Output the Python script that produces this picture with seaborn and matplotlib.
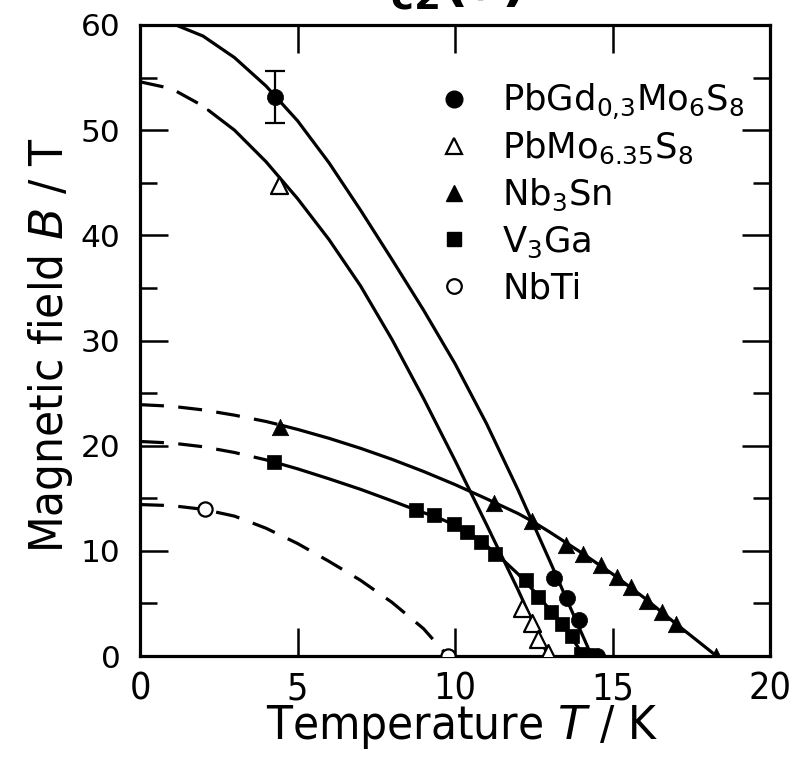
import matplotlib
matplotlib.use('Agg')
import matplotlib.pyplot as plt
from matplotlib import font_manager
from matplotlib.ticker import MultipleLocator
import seaborn as sns

# measured points (T in K, B in T)
pbgd_T = [4.29, 13.14, 13.54, 13.94, 14.5]
pbgd_B = [53.2, 7.38, 5.48, 3.42, 0.0]
pbgd_err_lo = 50.65
pbgd_err_hi = 55.65

pbmo_T = [4.4, 12.12, 12.46, 12.65, 12.96]
pbmo_B = [44.8, 4.53, 3.17, 1.59, 0.3]

nb3sn_T = [4.45, 11.25, 12.43, 13.51, 14.07, 14.63, 15.13, 15.58, 16.08, 16.58, 17.02, 18.3]
nb3sn_B = [21.8, 14.56, 12.85, 10.54, 9.69, 8.7, 7.53, 6.52, 5.25, 4.21, 3.04, 0.0]

v3ga_T = [4.24, 8.75, 9.34, 9.97, 10.38, 10.83, 11.28, 12.24, 12.62, 13.05, 13.41, 13.7, 14.0, 14.2]
v3ga_B = [18.4, 13.93, 13.39, 12.54, 11.8, 10.88, 9.69, 7.2, 5.63, 4.21, 3.04, 1.9, 0.2, 0.1]

nbti_T = [2.06, 9.77]
nbti_B = [13.96, 0.0]

pbgd_curve_T = [1.0, 1.22, 2.0, 3.0, 4.0, 5.0, 6.0, 7.0, 8.0, 9.0, 10.0, 11.0, 12.0, 13.0, 14.0, 14.34]
pbgd_curve_B = [60.2, 59.9, 58.95, 56.9, 54.2, 50.9, 46.9, 42.4, 37.7, 32.9, 27.8, 22.1, 15.8, 9.1, 2.3, 0.0]
pbgd_dash_end = 0.0

pbmo_curve_T = [0.0, 1.0, 2.0, 2.17, 3.0, 4.0, 5.0, 6.0, 7.0, 8.0, 9.0, 10.0, 11.0, 12.0, 12.96]
pbmo_curve_B = [54.6, 53.95, 52.3, 51.9, 50.0, 47.0, 43.5, 39.6, 35.2, 30.1, 24.5, 18.6, 12.5, 6.3, 0.0]
pbmo_dash_end = 2.17

nb3sn_curve_T = [0.0, 1.0, 2.0, 3.0, 4.0, 4.45, 5.0, 6.0, 7.0, 8.0, 9.0, 10.0, 11.0, 12.0, 12.43,
                 13.0, 14.0, 15.0, 16.0, 17.0, 18.0, 18.3]
nb3sn_curve_B = [23.9, 23.75, 23.4, 22.9, 22.3, 21.97, 21.55, 20.7, 19.75, 18.7, 17.55, 16.3, 14.95, 13.55, 12.85,
                 11.8, 9.85, 7.8, 5.55, 3.1, 0.72, 0.0]
nb3sn_dash_end = 4.45

v3ga_curve_T = [0.0, 1.0, 2.0, 3.0, 4.0, 4.24, 5.0, 6.0, 7.0, 8.0, 8.75, 9.5, 10.0, 10.5, 11.0, 11.5,
                12.0, 12.5, 13.0, 13.5, 14.1]
v3ga_curve_B = [20.4, 20.25, 19.9, 19.35, 18.65, 18.45, 17.8, 16.85, 15.85, 14.75, 13.9, 13.1, 12.45, 11.6, 10.5, 9.2,
                7.8, 6.2, 4.45, 2.6, 0.0]
v3ga_dash_end = 4.24

nbti_curve_T = [0.0, 1.0, 2.0, 3.0, 4.0, 5.0, 6.0, 7.0, 8.0, 9.0, 9.77]
nbti_curve_B = [14.4, 14.3, 13.95, 13.3, 12.15, 10.7, 9.0, 7.2, 5.1, 2.6, 0.0]
nbti_dash_end = 9.77

labels = ['PbGd$_{0{,}3}$Mo$_6$S$_8$', 'PbMo$_{6.35}$S$_8$', 'Nb$_3$Sn', 'V$_3$Ga', 'NbTi']

sns.set_style('ticks')
plt.rcParams['font.family'] = ['Liberation Sans', 'DejaVu Sans']
plt.rcParams['mathtext.fontset'] = 'custom'
plt.rcParams['mathtext.rm'] = 'DejaVu Sans'
plt.rcParams['mathtext.it'] = 'DejaVu Sans:italic'
plt.rcParams['mathtext.bf'] = 'DejaVu Sans:bold'
for key in ['text.color', 'axes.labelcolor', 'xtick.color', 'ytick.color', 'axes.edgecolor']:
    plt.rcParams[key] = 'black'


def narrow_font():
    # the source uses a condensed face for the x ticks and axis titles
    names = {f.name for f in font_manager.fontManager.ttflist}
    if 'Liberation Sans Narrow' in names:
        return {'family': 'Liberation Sans Narrow'}
    for f in font_manager.fontManager.ttflist:
        if f.name == 'DejaVu Sans' and 'Condensed' in f.fname and 'Bold' not in f.fname:
            return {'family': 'DejaVu Sans', 'stretch': 'condensed'}
    return None


narrow = narrow_font()
if narrow:
    label_kw = dict(fontsize=34, **narrow)
    xtick_kw = dict(fontsize=27, **narrow)
else:
    label_kw = dict(fontsize=33, family='Liberation Sans')
    xtick_kw = dict(fontsize=25, family='Liberation Sans')

LW = 2.3
DASH = (7.5, 4.5)

fig = plt.figure(figsize=(7.92, 7.66), dpi=100)
ax = fig.add_axes([140 / 792, 110 / 766, 630 / 792, 631 / 766])


def draw_curve(T, B, dash_end):
    # dashed extrapolation up to dash_end, solid fit after it
    dT = [t for t in T if t <= dash_end]
    dB = [b for t, b in zip(T, B) if t <= dash_end]
    sT = [t for t in T if t >= dash_end]
    sB = [b for t, b in zip(T, B) if t >= dash_end]
    if len(dT) > 1:
        sns.lineplot(x=dT, y=dB, sort=False, estimator=None, color='black', lw=LW, ax=ax)
        ax.lines[-1].set_dashes(DASH)
    if len(sT) > 1:
        sns.lineplot(x=sT, y=sB, sort=False, estimator=None, color='black', lw=LW, ax=ax)


draw_curve(pbgd_curve_T, pbgd_curve_B, pbgd_dash_end)
draw_curve(pbmo_curve_T, pbmo_curve_B, pbmo_dash_end)
draw_curve(nb3sn_curve_T, nb3sn_curve_B, nb3sn_dash_end)
draw_curve(v3ga_curve_T, v3ga_curve_B, v3ga_dash_end)
draw_curve(nbti_curve_T, nbti_curve_B, nbti_dash_end)

ax.errorbar([pbgd_T[0]], [pbgd_B[0]],
            yerr=[[pbgd_B[0] - pbgd_err_lo], [pbgd_err_hi - pbgd_B[0]]],
            fmt='none', ecolor='black', elinewidth=1.6, capsize=7, capthick=1.6, zorder=3)

sns.scatterplot(x=pbgd_T, y=pbgd_B, marker='o', s=135, color='black', edgecolor='black', linewidth=0.5, zorder=4, ax=ax)
sns.scatterplot(x=pbmo_T, y=pbmo_B, marker='^', s=150, color='white', edgecolor='black', linewidth=1.6, zorder=4, ax=ax)
sns.scatterplot(x=nb3sn_T, y=nb3sn_B, marker='^', s=140, color='black', edgecolor='black', linewidth=0.5, zorder=4, ax=ax)
sns.scatterplot(x=v3ga_T, y=v3ga_B, marker='s', s=115, color='black', edgecolor='black', linewidth=0.5, zorder=4, ax=ax)
sns.scatterplot(x=nbti_T, y=nbti_B, marker='o', s=105, color='white', edgecolor='black', linewidth=1.6, zorder=4, ax=ax)

ax.set_xlim(0, 20)
ax.set_ylim(0, 60)
ax.xaxis.set_major_locator(MultipleLocator(5))
ax.yaxis.set_major_locator(MultipleLocator(10))
ax.yaxis.set_minor_locator(MultipleLocator(5))
ax.tick_params(which='major', direction='in', length=20, width=1.8, top=True, right=True)
ax.tick_params(which='minor', direction='in', length=12, width=1.8, left=True, right=True)
ax.tick_params(axis='y', pad=14)
ax.tick_params(axis='x', pad=11)
for sp in ax.spines.values():
    sp.set_linewidth(2.3)

for lab in ax.get_yticklabels():
    lab.set_family('DejaVu Sans')
    lab.set_fontsize(22.5)
for lab in ax.get_xticklabels():
    lab.update(xtick_kw)

ax.set_xlabel('Temperature $T$ / K', **label_kw)
ax.set_ylabel('Magnetic field $B$ / T', **label_kw)
ax.xaxis.set_label_coords(0.511, -0.074)
ax.yaxis.set_label_coords(-0.103, 0.493)

# legend drawn by hand so the rows keep an even spacing
leg_styles = [
    dict(marker='o', ms=12, mfc='black', mec='black'),
    dict(marker='^', ms=11, mfc='white', mec='black', mew=1.6),
    dict(marker='^', ms=11, mfc='black', mec='black'),
    dict(marker='s', ms=10, mfc='black', mec='black'),
    dict(marker='o', ms=10.5, mfc='white', mec='black', mew=1.6),
]
for i, (lab, st) in enumerate(zip(labels, leg_styles)):
    y_px = 99 + 46.8 * i
    ya = (656 - y_px) / 631
    ax.plot([(454 - 140) / 630], [ya], ls='none', transform=ax.transAxes, clip_on=False, **st)
    ax.text((502 - 140) / 630, (656 - y_px - 12.5) / 631, lab, transform=ax.transAxes,
            family='DejaVu Sans', fontsize=25.5, va='baseline', ha='left')

# title sits mostly above the figure edge, as in the source
fig.text(524 / 792, 1 - 1 / 766, r'$\mathbf{B_{c2}(}T\mathbf{)}$', fontsize=40, ha='right', va='baseline')

fig.savefig('out.png', dpi=100)
